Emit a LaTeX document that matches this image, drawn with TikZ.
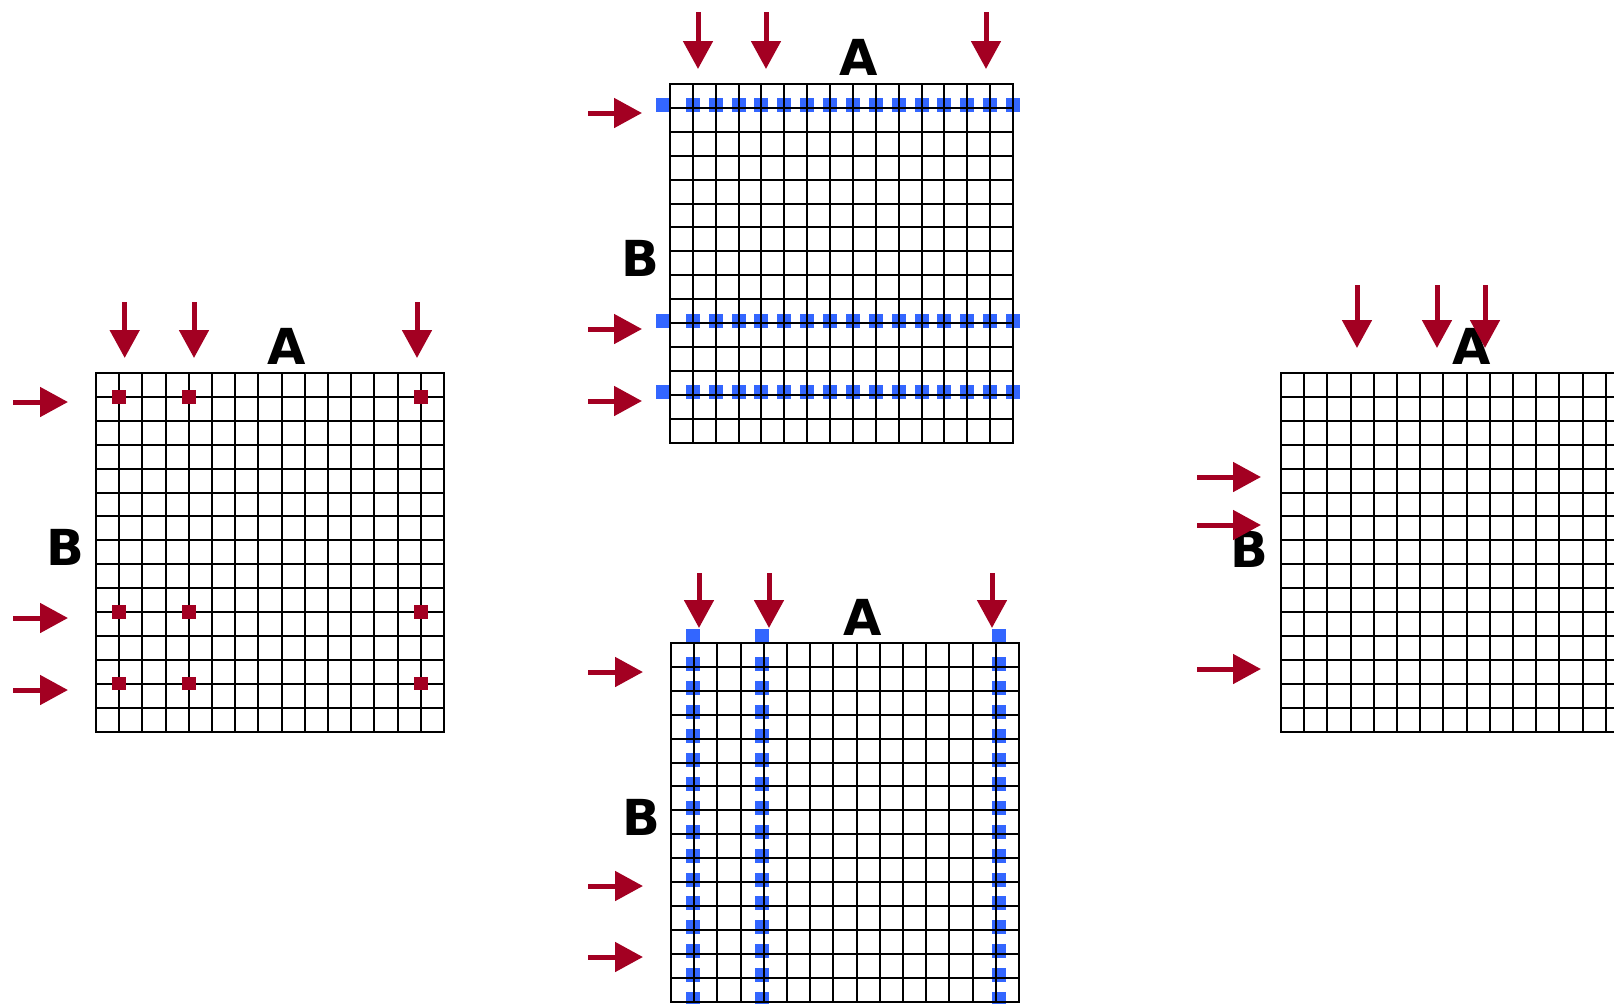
\documentclass[tikz,border=0pt]{standalone}
\usepackage{fontspec}
\setmainfont{DejaVu Sans}
\usetikzlibrary{arrows.meta}

\definecolor{feedred}{RGB}{163,0,34}
\definecolor{hitblue}{RGB}{51,102,255}

\newcommand{\cellw}{23.2}
\newcommand{\cellwrow}{22.87}
\newcommand{\cellh}{23.9}

\tikzset{
gridline/.style={line width=1pt,black,line cap=rect},
feed/.style={line width=2.5pt,feedred,-{Triangle[width=14.5pt,length=14pt]}},
axislabel/.style={inner sep=0pt,font=\bfseries\fontsize{24.8}{30}\selectfont}
}

\begin{document}
\begin{tikzpicture}[x=0.5pt,y=-0.5pt]

\useasboundingbox (0,0) rectangle (1614,1003);
\clip (0,0) rectangle (1614,1003);

% Einzelne Treffer
\begin{scope}[shift={(96,373)}]

\foreach \i in {0,...,15}
{
\draw[gridline] (\i*\cellw,0) -- (\i*\cellw,15*\cellh);
\draw[gridline] (0,\i*\cellh) -- (15*\cellw,\i*\cellh);
}

\foreach \c in {1,4,14}
\foreach \r in {1,10,13}
{
\fill[feedred] (\c*\cellw-6.75,\r*\cellh-6.75) rectangle ++(13.5,13.5);
}

\node[axislabel] (A1) at (191,-27) {A};
\node[axislabel] (B1) at (-31,174) {B};

\foreach \x in {28.7,98,321}
{
\draw[feed] (\x,-71) -- (\x,-15);
}
\foreach \y in {29,245,317}
{
\draw[feed] (-83,\y) -- (-28,\y);
}

\end{scope}

% Ganze Zeilen
\begin{scope}[shift={(670,84)}]

\foreach \r in {1,10,13}
{
\fill[hitblue] (-14,\r*\cellh-9.5) rectangle ++(14,14);
\foreach \c in {1,...,15}
\fill[hitblue] (\c*\cellwrow-7,\r*\cellh-9.5) rectangle ++(14,14);
}

\foreach \i in {0,...,15}
{
\draw[gridline] (\i*\cellwrow,0) -- (\i*\cellwrow,15*\cellh);
\draw[gridline] (0,\i*\cellh) -- (15*\cellwrow,\i*\cellh);
}

\node[axislabel] (A2) at (189,-27) {A};
\node[axislabel] (B2) at (-30,174) {B};

\foreach \x in {28,96,316}
{
\draw[feed] (\x,-72) -- (\x,-15);
}
\foreach \y in {29,245,317}
{
\draw[feed] (-82,\y) -- (-28,\y);
}

\end{scope}

% Ganze Spalten
\begin{scope}[shift={(671,643)}]

\foreach \x in {21.7,91,328}
{
\fill[hitblue] (\x-7,-14) rectangle ++(14,14);
\foreach \r in {1,...,15}
\fill[hitblue] (\x-7,\r*\cellh-9.5) rectangle ++(14,14);
}

\foreach \i in {0,...,15}
{
\draw[gridline] (\i*\cellw,0) -- (\i*\cellw,15*\cellh);
\draw[gridline] (0,\i*\cellh) -- (15*\cellw,\i*\cellh);
}

\node[axislabel] (A3) at (192,-26) {A};
\node[axislabel] (B3) at (-30,174) {B};

\foreach \x in {28,98,321}
{
\draw[feed] (\x,-70) -- (\x,-15);
}
\foreach \y in {29,243,314}
{
\draw[feed] (-83,\y) -- (-28,\y);
}

\end{scope}

% Ohne Treffer
\begin{scope}[shift={(1281,373)}]

\foreach \i in {0,...,15}
{
\draw[gridline] (\i*\cellw,0) -- (\i*\cellw,15*\cellh);
\draw[gridline] (0,\i*\cellh) -- (15*\cellw,\i*\cellh);
}

\node[axislabel] (A4) at (191,-27) {A};
\node[axislabel] (B4) at (-32,176) {B};

\foreach \x in {76,156,204}
{
\draw[feed] (\x,-88) -- (\x,-25);
}
\foreach \y in {104,152,296}
{
\draw[feed] (-84,\y) -- (-20,\y);
}

\end{scope}

\end{tikzpicture}
\end{document}
